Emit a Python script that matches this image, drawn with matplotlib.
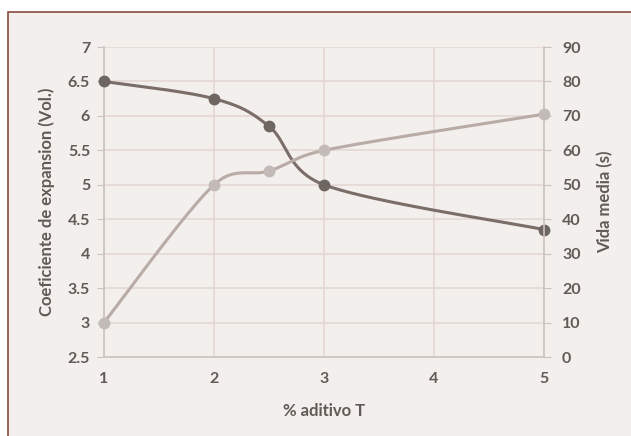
import numpy as np
import matplotlib
matplotlib.use("Agg")
import matplotlib.pyplot as plt

plt.rcParams['font.family'] = ['Lato', 'DejaVu Sans']

# Data
x_aditivo = [1, 2, 2.5, 3, 5]
coef_expansion = [6.5, 6.25, 5.85, 5.0, 4.35]   # left axis
vida_media = [10, 50, 54, 60, 70.5]              # right axis

left_ticks = [2.5, 3, 3.5, 4, 4.5, 5, 5.5, 6, 6.5, 7]
left_labels = ["2.5", "3", "3.5", "4", "4.5", "5", "5.5", "6", "6.5", "7"]
right_ticks = [0, 10, 20, 30, 40, 50, 60, 70, 80, 90]
x_ticks = [1, 2, 3, 4, 5]


def smooth(axis, xs, ys, n=40, k=1 / 6.0):
    """Bezier smoothing in screen space, control arms capped at half a segment
    (like a spreadsheet 'smoothed line')."""
    tr = axis.transData
    P = tr.transform(np.column_stack([xs, ys]).astype(float))
    P = np.vstack([P[0], P, P[-1]])
    out = []
    for i in range(1, len(P) - 2):
        p0, p1, p2, p3 = P[i - 1], P[i], P[i + 1], P[i + 2]
        d12 = np.hypot(*(p2 - p1))
        a1 = (p2 - p0) * k
        a2 = (p3 - p1) * k
        for a in (a1, a2):
            L = np.hypot(*a)
            if L > d12 / 2 and L > 0:
                a *= (d12 / 2) / L
        c1 = p1 + a1
        c2 = p2 - a2
        t = np.linspace(0, 1, n)[:, None]
        seg = ((1 - t) ** 3) * p1 + 3 * ((1 - t) ** 2) * t * c1 + 3 * (1 - t) * t ** 2 * c2 + t ** 3 * p2
        out.append(seg if i == 1 else seg[1:])
    s = tr.inverted().transform(np.vstack(out))
    return s[:, 0], s[:, 1]


bg = '#f2efec'
grid_c = '#e3d6d1'
spine_c = '#cdc2bd'
text_c = '#625a56'
dark_line = '#7b6d67'
dark_mark = '#6e6661'
light_line = '#b9aca6'
light_mark = '#c3bbb7'

fig = plt.figure(figsize=(6.31, 4.36), dpi=100)
fig.patch.set_facecolor('white')

# Frame panel
frame = plt.Rectangle((8 / 631, -0.05), 1.0, 1.05 - 12 / 436, transform=fig.transFigure,
                      facecolor=bg, edgecolor='#8b4a3c', linewidth=1.2, zorder=-10)
fig.patches.append(frame)

ax = fig.add_axes([104 / 631, 1 - 357 / 436, (544 - 104) / 631, (357 - 47) / 436])
ax.patch.set_alpha(0)
ax2 = ax.twinx()
ax2.patch.set_alpha(0)

ax.set_xlim(1, 5)
ax.set_ylim(2.5, 7)
ax2.set_ylim(0, 90)

ax.set_xticks(x_ticks)
ax.set_xticklabels([str(v) for v in x_ticks])
ax.set_yticks(left_ticks)
ax.set_yticklabels(left_labels)
ax2.set_yticks(right_ticks)
ax2.set_yticklabels([str(v) for v in right_ticks])

ax.grid(True, color=grid_c, linewidth=1.1)
ax.set_axisbelow(True)

for a in (ax, ax2):
    for s in a.spines.values():
        s.set_visible(False)
ax.spines['left'].set_visible(True)
ax.spines['bottom'].set_visible(True)
ax2.spines['right'].set_visible(True)
for s in (ax.spines['left'], ax.spines['bottom'], ax2.spines['right']):
    s.set_color(spine_c)
    s.set_linewidth(1.2)

ax.tick_params(axis='both', colors=spine_c, labelcolor=text_c, labelsize=11.5, length=0)
ax.tick_params(axis='x', pad=11)
ax.tick_params(axis='y', length=5, direction='out', pad=5)
ax2.tick_params(axis='y', colors=spine_c, labelcolor=text_c, labelsize=11.5, length=5, direction='out', pad=8)

for lbl in ax.get_xticklabels() + ax.get_yticklabels() + ax2.get_yticklabels():
    lbl.set_fontweight('bold')

# Series
sx, sy = smooth(ax, x_aditivo, coef_expansion)
ax.plot(sx, sy, color=dark_line, linewidth=2.2, zorder=3, clip_on=False)
ax.plot(x_aditivo, coef_expansion, linestyle='none', marker='o', markersize=7.5,
        color=dark_mark, zorder=4, clip_on=False)

lx, ly = smooth(ax2, x_aditivo, vida_media)
ax2.plot(lx, ly, color=light_line, linewidth=2.2, zorder=3, clip_on=False)
ax2.plot(x_aditivo, vida_media, linestyle='none', marker='o', markersize=7.5,
         color=light_mark, zorder=4, clip_on=False)

ax.set_xlabel('% aditivo T', color=text_c, fontsize=12, fontweight='bold', labelpad=12)
ax.set_ylabel('Coeficiente de expansion (Vol.)', color=text_c, fontsize=12,
              fontweight='bold', labelpad=9)
ax2.set_ylabel('Vida media (s)', color=text_c, fontsize=12, fontweight='bold', labelpad=12)

fig.savefig('out.png', dpi=100, facecolor=fig.get_facecolor())
